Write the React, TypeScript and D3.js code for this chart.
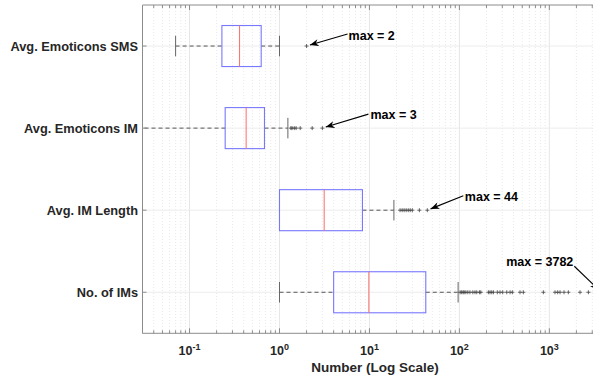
import React from 'react';
import * as d3 from 'd3';

// category labels, top to bottom
const categories = ['Avg. Emoticons SMS', 'Avg. Emoticons IM', 'Avg. IM Length', 'No. of IMs'];

// box statistics
const lowWhisker = [0.07, 0.001, 1.0, 1.0];
const q1 = [0.229, 0.249, 1.0, 4.0];
const medians = [0.36, 0.426, 3.14, 9.85];
const q3 = [0.626, 0.681, 8.36, 42.3];
const highWhisker = [1.0, 1.24, 18.7, 96.8];

const outliers: number[][] = [
  [2],
  [1.34, 1.38, 1.46, 1.53, 1.7, 2.31, 3],
  [21.9, 23.1, 24.3, 25.6, 27.0, 28.4, 30.0, 35.9, 44],
  [102, 106, 110, 113, 118, 124, 131, 141, 149, 156, 167, 173, 210, 219, 229, 239, 264, 283, 303,
    336, 366, 388, 472, 514, 858, 1156, 1238, 1315, 1456, 1626, 2193, 2716, 3782],
];

const maxValues = [2, 3, 44, 3782];
const maxLabels = ['max = 2', 'max = 3', 'max = 44', 'max = 3782'];

const xTickValues = [0.1, 1, 10, 100, 1000];
const xTickExponents = ['-1', '0', '1', '2', '3'];
const xDomain = [0.03, 4000];

const W = 593;
const H = 380;
const FONT = '"Liberation Sans", Arial, Helvetica, sans-serif';
const TEXT = '#262626';
const AXIS = '#8c8c8c';

// annotation placement relative to the marked point (tail of the arrow, text anchor)
const notes = [
  { dx: 41, dy: -12, tx: 42, ty: -6.5, anchor: 'start' },
  { dx: 46, dy: -14, tx: 48, ty: -9, anchor: 'start' },
  { dx: 36, dy: -14.5, tx: 37.5, ty: -9.5, anchor: 'start' },
  { dx: -27, dy: -26, tx: -28, ty: -26.5, anchor: 'end' },
];

export default function App() {
  const x = d3.scaleLog().domain(xDomain).range([142.5, 603.5]);
  const y = d3.scaleLinear().domain([0.5, 4.5]).range([5, 333.3]);
  const [x0, x1] = x.range();
  const [yTop, yBot] = y.range();
  const boxHalf = 0.25;
  const capHalf = 0.125;

  // minor ticks 2..9 x 10^n inside the domain
  const minor: number[] = [];
  for (let e = -2; e <= 3; e++) {
    for (let k = 2; k <= 9; k++) {
      const v = k * Math.pow(10, e);
      if (v >= xDomain[0] && v <= xDomain[1]) minor.push(v);
    }
  }

  const cy = (i: number) => y(i + 1);

  return (
    <div style={{ position: 'fixed', left: 0, top: 0, background: '#fff' }}>
      <svg width={W} height={H} style={{ display: 'block', fontFamily: FONT }}>
        <defs>
          <clipPath id="plot">
            <rect x={x0} y={yTop} width={x1 - x0} height={yBot - yTop} />
          </clipPath>
          <marker id="head" viewBox="0 0 10 8" refX="10" refY="4" markerWidth="9" markerHeight="7"
            markerUnits="userSpaceOnUse" orient="auto">
            <path d="M0,0 L10,4 L0,8 L3,4 Z" fill="#000" />
          </marker>
        </defs>
        <rect x={0} y={0} width={W} height={H} fill="#fff" />

        {/* grid */}
        <g clipPath="url(#plot)">
          {minor.map(v => (
            <line key={'m' + v} x1={x(v)} x2={x(v)} y1={yTop} y2={yBot}
              stroke="#e3e3e3" strokeWidth={0.8} strokeDasharray="1,2" />
          ))}
          {xTickValues.map(v => (
            <line key={'g' + v} x1={x(v)} x2={x(v)} y1={yTop} y2={yBot} stroke="#e6e6e6" strokeWidth={1} />
          ))}
          {categories.map((c, i) => (
            <line key={'h' + c} x1={x0} x2={x1} y1={cy(i)} y2={cy(i)} stroke="#ececec" strokeWidth={1} />
          ))}
        </g>

        {/* boxes */}
        <g clipPath="url(#plot)">
          {categories.map((c, i) => {
            const yc = cy(i);
            const bh = y(i + 1 + boxHalf) - yc;
            const ch = y(i + 1 + capHalf) - yc;
            const xl = Math.max(x(lowWhisker[i]), x0 - 5);
            return (
              <g key={c}>
                <line x1={xl} x2={x(q1[i])} y1={yc} y2={yc} stroke="#555" strokeWidth={1} strokeDasharray="4,3" />
                <line x1={x(q3[i])} x2={x(highWhisker[i])} y1={yc} y2={yc} stroke="#555" strokeWidth={1} strokeDasharray="4,3" />
                {lowWhisker[i] >= xDomain[0] && (
                  <line x1={x(lowWhisker[i])} x2={x(lowWhisker[i])} y1={yc - ch} y2={yc + ch} stroke="#666" strokeWidth={1} />
                )}
                <line x1={x(highWhisker[i])} x2={x(highWhisker[i])} y1={yc - ch} y2={yc + ch} stroke="#666" strokeWidth={1} />
                <rect x={x(q1[i])} y={yc - bh} width={x(q3[i]) - x(q1[i])} height={2 * bh}
                  fill="none" stroke="#7878ff" strokeWidth={1.1} />
                <line x1={x(medians[i])} x2={x(medians[i])} y1={yc - bh} y2={yc + bh} stroke="#ff6a6a" strokeWidth={1} />
                {outliers[i].map((v, j) => (
                  <path key={j} d={`M${x(v) - 2},${yc}H${x(v) + 2}M${x(v)},${yc - 2}V${yc + 2}`}
                    stroke="#444" strokeWidth={0.8} fill="none" />
                ))}
              </g>
            );
          })}
        </g>

        {/* axes frame */}
        <line x1={x0} x2={x0} y1={yTop} y2={yBot} stroke={AXIS} strokeWidth={1} />
        <line x1={x0} x2={x1} y1={yBot} y2={yBot} stroke={AXIS} strokeWidth={1} />
        <line x1={x0} x2={x1} y1={yTop} y2={yTop} stroke={AXIS} strokeWidth={1} />
        {minor.map(v => (
          <g key={'mt' + v}>
            <line x1={x(v)} x2={x(v)} y1={yBot} y2={yBot - 3} stroke={AXIS} />
            <line x1={x(v)} x2={x(v)} y1={yTop} y2={yTop + 3} stroke={AXIS} />
          </g>
        ))}
        {xTickValues.map((v, i) => (
          <g key={'t' + v}>
            <line x1={x(v)} x2={x(v)} y1={yBot} y2={yBot - 5} stroke={AXIS} />
            <line x1={x(v)} x2={x(v)} y1={yTop} y2={yTop + 5} stroke={AXIS} />
            <text x={x(v)} y={355} textAnchor="middle" fontSize={12.5} fontWeight="bold" fill={TEXT}>
              10<tspan dy={-5.5} fontSize={9}>{xTickExponents[i]}</tspan>
            </text>
          </g>
        ))}
        {categories.map((c, i) => (
          <g key={'yl' + c}>
            <line x1={x0} x2={x0 + 4} y1={cy(i)} y2={cy(i)} stroke={AXIS} />
            <text x={x0 - 4.5} y={cy(i)} dy="0.36em" textAnchor="end" fontSize={12.8} fontWeight="bold" fill={TEXT}>
              {c}
            </text>
          </g>
        ))}
        <text x={375} y={372} textAnchor="middle" fontSize={13.5} fontWeight="bold" fill={TEXT}>
          Number (Log Scale)
        </text>

        {/* max annotations */}
        {maxValues.map((v, i) => {
          const px = x(v);
          const py = cy(i);
          const n = notes[i];
          const tx = px + n.dx;
          const ty = py + n.dy;
          const len = Math.hypot(px - tx, py - ty);
          const ex = px - ((px - tx) / len) * 3.5;
          const ey = py - ((py - ty) / len) * 3.5;
          return (
            <g key={'a' + i}>
              <line x1={tx} y1={ty} x2={ex} y2={ey} stroke="#000" strokeWidth={1.1} markerEnd="url(#head)" />
              <text x={px + n.tx} y={py + n.ty} textAnchor={n.anchor as any} fontSize={12.5} fontWeight="bold" fill="#000">
                {maxLabels[i]}
              </text>
            </g>
          );
        })}
      </svg>
    </div>
  );
}
